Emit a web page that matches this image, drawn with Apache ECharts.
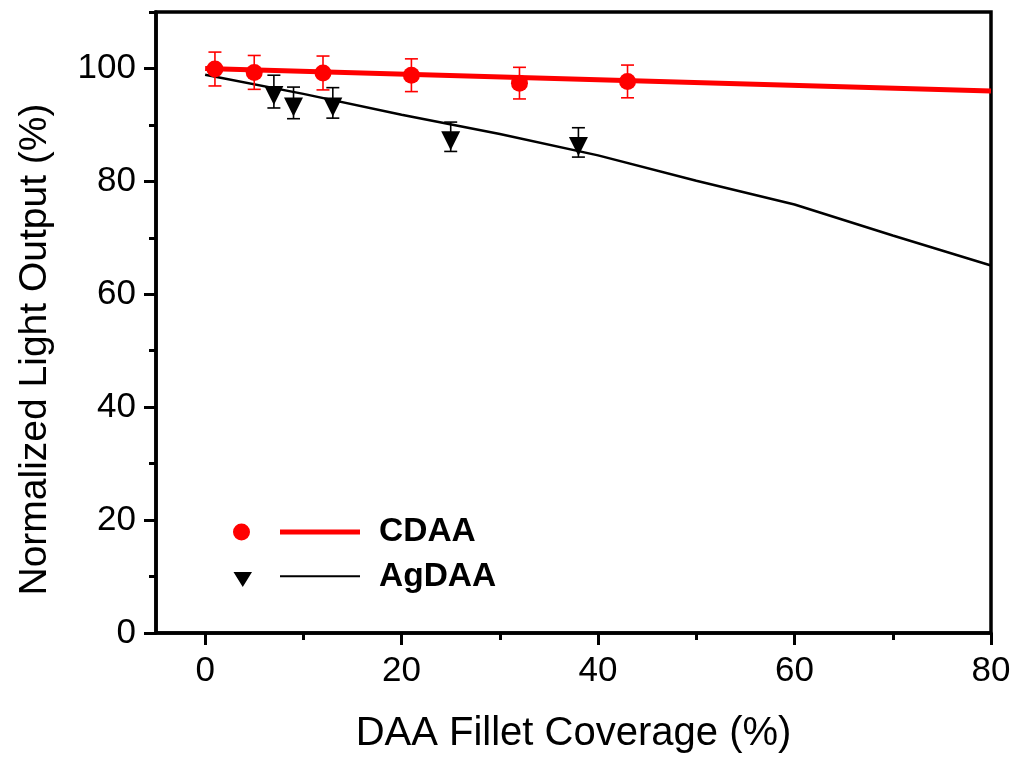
<!DOCTYPE html>
<html><head><meta charset="utf-8">
<script src="https://cdn.jsdelivr.net/npm/echarts@6/dist/echarts.min.js"></script>
<style>html,body{margin:0;padding:0;background:#fff}#c{width:1017px;height:762px}</style>
</head><body><div id="c"></div>
<script>
// ---- data ----
const cdaaX = [1, 5, 12, 21, 32, 43];
const cdaaY = [99.9, 99.3, 99.2, 98.8, 97.4, 97.7];
const cdaaErr = [3.0, 3.0, 3.0, 2.9, 2.8, 2.9];
const agX = [7, 9, 13, 25, 38];
const agY = [95.9, 93.9, 93.9, 87.9, 86.9];
const agErr = [2.9, 2.8, 2.7, 2.6, 2.6];
const cdaaFitX = [0, 80];
const cdaaFitY = [100.0, 96.0];
const agFitX = [0, 10, 20, 30, 40, 50, 60, 70, 80];
const agFitY = [98.9, 95.5, 91.8, 88.4, 84.6, 80.1, 75.9, 70.4, 65.1];
const xTicks = [0, 20, 40, 60, 80];
const xMinorTicks = [10, 30, 50, 70];
const yTicks = [0, 20, 40, 60, 80, 100];
const yMinorTicks = [10, 30, 50, 70, 90, 110];
const xRange = [-5, 80];
const yRange = [0, 110];
const xTitle = 'DAA Fillet Coverage (%)';
const yTitle = 'Normalized Light Output (%)';

const FONT = '"Liberation Sans", Arial, sans-serif';
const zip = (a, b, c) => a.map((v, i) => c ? [v, b[i], c[i]] : [v, b[i]]);

function errBar(color) {
  return function (params, api) {
    const x = api.value(0), y = api.value(1), e = api.value(2);
    const t = api.coord([x, y + e]);
    const b = api.coord([x, y - e]);
    const hw = 6.5;
    const st = { stroke: color, lineWidth: 1.6 };
    return { type: 'group', children: [
      { type: 'line', shape: { x1: t[0], y1: t[1], x2: b[0], y2: b[1] }, style: st },
      { type: 'line', shape: { x1: t[0] - hw, y1: t[1], x2: t[0] + hw, y2: t[1] }, style: st },
      { type: 'line', shape: { x1: b[0] - hw, y1: b[1], x2: b[0] + hw, y2: b[1] }, style: st }
    ]};
  };
}

const gridBox = { left: 156, right: 26, top: 12, bottom: 129 };
const chart = echarts.init(document.getElementById('c'), null, { renderer: 'canvas' });

const anchors = 'M0,0 L0.01,0 L0,0.01 Z M127,20 L126.99,20 L127,19.99 Z ';
const cdaaIcon = 'path://' + anchors + 'M0,10 A8.5,8.5 0 1,1 17,10 A8.5,8.5 0 1,1 0,10 Z M47,7.5 L127,7.5 L127,12.5 L47,12.5 Z';
const agIcon = 'path://' + anchors + 'M0.5,5 L19,5 L9.75,20 Z M47,8.3 L127,8.3 L127,10.3 L47,10.3 Z';

chart.setOption({
  animation: false,
  backgroundColor: '#fff',
  grid: [
    Object.assign({ show: true, borderColor: '#000', borderWidth: 3.5, backgroundColor: 'transparent' }, gridBox),
    Object.assign({ show: false }, gridBox)
  ],
  legend: {
    orient: 'vertical', left: 233, top: 515, itemGap: 11, padding: 0,
    itemWidth: 127, itemHeight: 20,
    itemStyle: { borderWidth: 0 },
    textStyle: { fontFamily: FONT, fontSize: 33.5, fontWeight: 'bold', color: '#000', padding: [0, 0, 0, 14] },
    data: [
      { name: 'CDAA', icon: cdaaIcon, itemStyle: { color: '#ff0000', borderWidth: 0 } },
      { name: 'AgDAA', icon: agIcon, itemStyle: { color: '#000000', borderWidth: 0 } }
    ],
    selectedMode: false
  },
  xAxis: [
    {
      type: 'value', gridIndex: 0, min: xRange[0], max: xRange[1],
      name: xTitle, nameLocation: 'middle', nameGap: 81,
      nameTextStyle: { fontFamily: FONT, fontSize: 40, color: '#000' },
      axisLine: { show: true, onZero: false, lineStyle: { color: '#000', width: 3.5 } },
      axisTick: { show: true, length: 12, lineStyle: { color: '#000', width: 3 }, customValues: xTicks },
      axisLabel: { fontFamily: FONT, fontSize: 35, color: '#000', margin: 21, customValues: xTicks },
      splitLine: { show: false }
    },
    {
      type: 'value', gridIndex: 1, min: xRange[0], max: xRange[1],
      axisLine: { show: false, onZero: false },
      axisTick: { show: true, length: 7, lineStyle: { color: '#000', width: 3 }, customValues: xMinorTicks },
      axisLabel: { show: false },
      splitLine: { show: false }
    }
  ],
  yAxis: [
    {
      type: 'value', gridIndex: 0, min: yRange[0], max: yRange[1],
      name: yTitle, nameLocation: 'middle', nameGap: 101, nameRotate: 90,
      nameTruncate: { maxWidth: 2000 },
      nameTextStyle: { fontFamily: FONT, fontSize: 39, color: '#000', overflow: 'none', padding: [0, 54, 0, 0] },
      axisLine: { show: true, onZero: false, lineStyle: { color: '#000', width: 3.5 } },
      axisTick: { show: true, length: 12, lineStyle: { color: '#000', width: 3 }, customValues: yTicks },
      axisLabel: { fontFamily: FONT, fontSize: 35, color: '#000', margin: 20, customValues: yTicks },
      splitLine: { show: false }
    },
    {
      type: 'value', gridIndex: 1, min: yRange[0], max: yRange[1],
      axisLine: { show: false, onZero: false },
      axisTick: { show: true, length: 7, lineStyle: { color: '#000', width: 3 }, customValues: yMinorTicks },
      axisLabel: { show: false },
      splitLine: { show: false }
    }
  ],
  series: [
    {
      name: 'CDAA', type: 'line', xAxisIndex: 0, yAxisIndex: 0,
      data: zip(cdaaFitX, cdaaFitY), showSymbol: false, symbol: 'none',
      lineStyle: { color: '#ff0000', width: 5 }, itemStyle: { color: '#ff0000' }, z: 2
    },
    {
      name: 'AgDAA', type: 'line', xAxisIndex: 0, yAxisIndex: 0,
      data: zip(agFitX, agFitY), showSymbol: false, symbol: 'none',
      lineStyle: { color: '#000', width: 2.5 }, itemStyle: { color: '#000' }, z: 2
    },
    {
      name: 'CDAA', type: 'custom', xAxisIndex: 0, yAxisIndex: 0,
      renderItem: errBar('#ff0000'), data: zip(cdaaX, cdaaY, cdaaErr),
      itemStyle: { color: '#ff0000' }, z: 3
    },
    {
      name: 'AgDAA', type: 'custom', xAxisIndex: 0, yAxisIndex: 0,
      renderItem: errBar('#000'), data: zip(agX, agY, agErr),
      itemStyle: { color: '#000' }, z: 3
    },
    {
      name: 'CDAA', type: 'scatter', xAxisIndex: 0, yAxisIndex: 0,
      data: zip(cdaaX, cdaaY), symbol: 'circle', symbolSize: 17,
      itemStyle: { color: '#ff0000', opacity: 1 }, z: 4
    },
    {
      name: 'AgDAA', type: 'scatter', xAxisIndex: 0, yAxisIndex: 0,
      data: zip(agX, agY), symbol: 'triangle', symbolRotate: 180, symbolSize: [19, 19], symbolOffset: [0, 4],
      itemStyle: { color: '#000', opacity: 1 }, z: 4
    }
  ]
});
</script>
</body></html>
